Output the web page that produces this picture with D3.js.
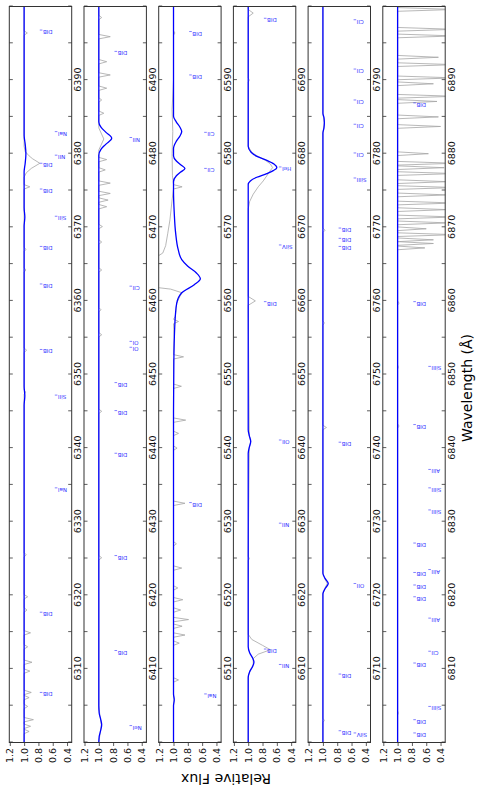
<!DOCTYPE html>
<html>
<head>
<meta charset="utf-8">
<script src="https://cdn.jsdelivr.net/npm/d3@7"></script>
<style>
  body { margin: 0; background: #fff; }
  text { font-family: "DejaVu Sans", sans-serif; }
</style>
</head>
<body>
<div id="chart"></div>
<script>
// wavelength windows, one per panel (each 100 A wide)
const panelStarts = [6300, 6400, 6500, 6600, 6700, 6800];
const fluxTicks = [0.4, 0.6, 0.8, 1.0, 1.2];

// model spectrum (blue), [wavelength, flux]
const model1 = [[6300,1.0],[6345.8,1.0],[6347.1,0.99],[6348.4,1.0],[6370.1,1.0],[6371.4,0.99],[6372.7,1.0],[6377.5,1.0],[6378.7,0.985],[6380.0,0.975],[6381.3,0.985],[6382.5,1.0],[6400,1.0]];
const model2 = [[6400,1.0],[6400.8,0.995],[6401.6,0.975],[6402.4,0.96],[6403.2,0.975],[6404.0,0.995],[6405,1.0],[6479.8,1.0],[6480.6,0.97],[6481.3,0.9],[6482.1,0.82],[6482.9,0.9],[6483.6,0.97],[6484.3,1.0],[6500,1.0]];
const model3 = [[6500,1.0],[6505.0,1.0],[6505.8,0.99],[6506.6,1.0],[6545,1.0],[6552,0.995],[6556,0.985],[6557.9,0.975],[6559.7,0.955],[6561.1,0.885],[6562.2,0.71],[6563.0,0.625],[6563.8,0.68],[6564.7,0.8],[6565.6,0.885],[6567.0,0.935],[6569.2,0.97],[6572,0.99],[6575,1.0],[6576.2,1.0],[6577.0,0.96],[6577.5,0.9],[6578.0,0.84],[6578.5,0.9],[6579.0,0.96],[6579.7,1.0],[6580.7,1.0],[6581.7,0.96],[6582.4,0.91],[6583.0,0.885],[6583.6,0.91],[6584.3,0.96],[6585.1,1.0],[6600,1.0]];
const model4 = [[6600,1.0],[6608.8,1.0],[6609.6,0.98],[6610.3,0.94],[6610.9,0.92],[6611.5,0.94],[6612.2,0.98],[6613.0,1.0],[6639.3,1.0],[6640.1,0.985],[6640.9,0.965],[6641.7,0.985],[6642.5,1.0],[6675.8,1.0],[6676.3,0.97],[6676.8,0.88],[6677.3,0.74],[6677.7,0.65],[6678.1,0.6],[6678.6,0.64],[6679.1,0.74],[6679.6,0.87],[6680.2,0.96],[6681.0,1.0],[6700,1.0]];
const model5 = [[6700,1.0],[6720.2,1.0],[6720.9,0.97],[6721.6,0.925],[6722.3,0.97],[6723.0,1.0],[6782.8,1.0],[6783.5,0.985],[6784.2,0.98],[6784.9,0.985],[6785.5,1.0],[6800,1.0]];
const model6 = [[6800,1.0],[6900,1.0]];

// observed spectrum (grey), smooth part, [wavelength, flux]
const obs1 = [[6300,1.0],[6376.8,1.0],[6377.4,0.97],[6378.0,0.9],[6378.7,0.78],[6379.3,0.88],[6379.7,0.93],[6380.3,0.985],[6381.0,1.0],[6400,1.0]];
const obs2 = [[6400,1.0],[6401.0,0.985],[6402.4,0.965],[6403.7,0.985],[6405,1.0],[6480.5,1.0],[6482.0,0.93],[6483.5,1.0],[6500,1.0]];
const obs3 = [[6500,1.0],[6505.0,1.0],[6505.8,0.99],[6506.6,1.0],[6550,1.0],[6555,0.99],[6557.9,0.975],[6559.7,0.955],[6560.6,0.91],[6561.1,0.88],[6561.6,1.04],[6561.9,1.3],[6565.6,1.3],[6566.5,1.15],[6567.5,1.11],[6569.2,1.08],[6571.0,1.05],[6573.7,1.02],[6577,1.015],[6580,1.02],[6583,1.01],[6586,1.02],[6590,1.0],[6600,1.0]];
const obs4 = [[6600,1.0],[6609.0,1.0],[6609.8,0.97],[6610.6,0.93],[6611.4,0.93],[6612.0,0.86],[6612.6,0.69],[6613.2,0.8],[6614.0,0.95],[6614.7,1.0],[6640.1,0.985],[6640.9,0.965],[6641.7,0.985],[6659.4,1.0],[6660.0,0.9],[6660.6,1.0],[6672.5,1.0],[6673.5,0.98],[6674.5,0.93],[6675.5,0.86],[6676.3,0.79],[6677.0,0.74],[6677.6,0.7],[6678.1,0.66],[6678.6,0.69],[6679.1,0.76],[6679.6,0.86],[6680.2,0.95],[6681.0,1.0],[6698.6,1.0],[6699.1,0.93],[6699.6,1.0],[6700,1.0]];
const obs5 = [[6700,1.0],[6720.2,1.0],[6720.9,0.975],[6721.6,0.94],[6722.3,0.975],[6723.0,1.0],[6782.8,1.0],[6784.2,0.98],[6785.5,1.0],[6800,1.0]];
const obs6 = [[6800,1.0],[6900,1.0]];

// narrow features in the observed spectrum, [centre, flux at centre]
const spikes1 = [[6301.5,0.93],[6302.2,0.91],[6303.1,0.87],[6304.9,0.95],[6306.1,0.93],[6306.8,0.9],[6309.7,0.92],[6310.9,0.89],[6313.0,0.95],[6314.9,0.91],[6318.0,0.96],[6319.8,0.95],[6325.5,0.97],[6347.6,0.98],[6353.3,0.965],[6364.2,0.975],[6367.0,0.975],[6375.5,0.92],[6396.4,0.955]];
const spikes2 = [[6425.1,0.96],[6445.0,0.96],[6455.4,0.96],[6458.8,0.97],[6464.2,0.96],[6468.0,0.96],[6470.1,0.95],[6472.8,0.89],[6473.7,0.87],[6474.6,0.84],[6476.0,0.84],[6477.8,0.91],[6479.2,0.89],[6485.5,0.93],[6487.3,0.96],[6488.9,0.89],[6490.7,0.84],[6492.5,0.89],[6495.9,0.84],[6498.5,0.96]];
const spikes3 = [[6508.5,0.93],[6513.5,0.92],[6514.6,0.84],[6515.8,0.88],[6516.7,0.79],[6518.0,0.9],[6519.4,0.87],[6521.0,0.94],[6523.7,0.885],[6527.0,0.96],[6532.5,0.84],[6540.0,0.95],[6542.0,0.93],[6543.8,0.83],[6548.4,0.89],[6552.4,0.86],[6557.2,0.93],[6575.5,0.88],[6596.4,0.98]];
const spikes4 = [[6625.0,0.985],[6690.0,0.985]];
const spikes5 = [[6703.0,0.98],[6742.8,0.95],[6757.0,0.98],[6769.6,0.97]];
const spikes6 = [[6804.0,0.99],[6843.0,0.98],[6851.0,0.99],[6859.7,0.98],
  // telluric O2 band
  [6867.2,0.62],[6867.8,0.5],[6868.3,0.5],[6869.0,0.2],[6869.8,0.6],[6870.6,0.3],[6871.4,0.2],[6872.4,0.3],[6873.3,0.2],[6874.4,0.3],[6875.4,0.2],[6876.2,0.3],[6877.3,0.2],[6878.1,0.35],[6878.7,0.2],[6880.0,0.57],[6883.7,0.4],[6885.0,0.43],[6887.1,0.45],[6887.8,0.2],[6889.5,0.5],[6890.3,0.2],[6892.1,0.2],[6893.1,0.43],[6896.0,0.2],[6896.9,0.2],[6899.6,0.2]];

// line identifications, [wavelength, name, row] (row d = DIB row, i = ion row)
const labels1 = [[6396.8,"DIB","d"],[6383.0,"NaI","i"],[6379.8,"NII","i"],[6378.7,"DIB","d"],[6375.2,"DIB","d"],[6371.5,"SiII","i"],[6367.4,"DIB","d"],[6362.3,"DIB","d"],[6353.4,"DIB","d"],[6347.2,"SiII","i"],[6334.6,"NaI","i"],[6317.7,"DIB","d"],[6306.8,"DIB","d"]];
const labels2 = [[6493.9,"DIB","d"],[6482.2,"NII","i"],[6462.0,"CII","i"],[6454.5,"OI","i"],[6453.7,"OI","i"],[6448.9,"DIB","d"],[6445.1,"DIB","d"],[6439.3,"DIB","d"],[6425.4,"DIB","d"],[6412.5,"DIB","d"],[6402.3,"NeI","i"]];
const labels3 = [[6596.6,"DIB","d"],[6590.7,"DIB","d"],[6582.9,"CII","i"],[6578.0,"CII","i"],[6532.6,"DIB","d"],[6506.6,"NaI","i"]];
const labels4 = [[6698.4,"DIB","d"],[6678.2,"HeI","i"],[6667.6,"SiIV","i"],[6659.9,"DIB","d"],[6641.1,"OII","i"],[6629.8,"NII","i"],[6612.7,"DIB","d"],[6610.6,"NII","i"]];
const labels5 = [[6798.2,"CII","i"],[6791.5,"CII","i"],[6787.3,"CII","i"],[6784.0,"CII","i"],[6780.1,"CII","i"],[6776.7,"SiIII","i"],[6769.9,"DIB","d"],[6768.5,"DIB","d"],[6767.4,"DIB","d"],[6740.8,"DIB","d"],[6721.6,"OII","i"],[6709.3,"DIB","d"],[6701.6,"DIB","d"],[6701.3,"SiIV","i"]];
const labels6 = [[6886.9,"DIB","d"],[6859.9,"DIB","d"],[6851.1,"SiIII","i"],[6843.2,"DIB","d"],[6837.1,"AlII","i"],[6834.6,"SiIII","i"],[6831.6,"SiIII","i"],[6827.1,"DIB","d"],[6823.5,"AlII","i"],[6823.1,"DIB","d"],[6821.4,"DIB","d"],[6819.8,"DIB","d"],[6816.9,"AlII","i"],[6812.4,"CII","i"],[6810.8,"DIB","d"],[6804.9,"SiIII","i"],[6803.1,"DIB","d"],[6801.3,"DIB","d"]];

const models = [model1, model2, model3, model4, model5, model6];
const observed = [obs1, obs2, obs3, obs4, obs5, obs6];
const spikes = [spikes1, spikes2, spikes3, spikes4, spikes5, spikes6];
const labels = [labels1, labels2, labels3, labels4, labels5, labels6];

// the figure is drawn landscape (792 x 479) and turned a quarter turn
const figW = 792;
const svg = d3.select("#chart").append("svg")
  .attr("width", 479).attr("height", 792);
const fig = svg.append("g")
  .attr("transform", "translate(0," + figW + ") rotate(-90)");

const left = 49.5, right = 785.5, panelH = 62.4;

// put each narrow feature in as a small V on the continuum
const addSpikes = function(base, list) {
  const pts = base.slice();
  list.forEach(function(s) {
    const hw = s[0] > 6866 ? 0.25 : 0.3;
    pts.push([s[0] - hw, 1.0], [s[0], s[1]], [s[0] + hw, 1.0]);
  });
  return pts.sort(function(a, b) { return a[0] - b[0]; });
}

panelStarts.forEach(function(start, i) {
  const pTop = 9.3 + i * 74.7;
  const x = d3.scaleLinear().domain([start, start + 100]).range([left, right]);
  const y = d3.scaleLinear().domain([0.335, 1.207]).range([pTop + panelH, pTop]);
  const g = fig.append("g");

  g.append("clipPath").attr("id", "clip" + i)
    .append("rect").attr("x", left).attr("y", pTop)
    .attr("width", right - left).attr("height", panelH);

  const line = d3.line().x(d => x(d[0])).y(d => y(d[1]));
  const smooth = d3.line().x(d => x(d[0])).y(d => y(d[1])).curve(d3.curveMonotoneX);

  g.append("path").datum(addSpikes(observed[i], spikes[i]))
    .attr("clip-path", "url(#clip" + i + ")")
    .attr("fill", "none").attr("stroke", "#a6a6a6").attr("stroke-width", 0.8)
    .attr("d", line);

  g.append("path").datum(models[i])
    .attr("clip-path", "url(#clip" + i + ")")
    .attr("fill", "none").attr("stroke", "#0000ff").attr("stroke-width", 1.3)
    .attr("d", smooth);

  // line ids
  labels[i].forEach(function(l) {
    const off = l[2] == "d" ? 30.5 : 45.5;
    g.append("line")
      .attr("x1", x(l[0])).attr("x2", x(l[0]))
      .attr("y1", pTop + off).attr("y2", pTop + off + 2.6)
      .attr("stroke", "#2b2bff").attr("stroke-width", 0.6);
    g.append("text")
      .attr("transform", "translate(" + x(l[0]) + "," + (pTop + off + 3.1) + ") rotate(-90)")
      .attr("text-anchor", "end")
      .attr("fill", "#2b2bff")
      .style("font-size", "5.5px")
      .text(l[1]);
  });

  // axes
  const wTicks = x.ticks(20);
  g.append("g").attr("transform", "translate(0," + (pTop + panelH) + ")")
    .call(d3.axisBottom(x).tickValues(wTicks).tickSize(-3.5).tickPadding(2.8)
      .tickFormat(d => (d % 10 == 0 && d > start && d < start + 100) ? d : ""));
  g.append("g").attr("transform", "translate(0," + pTop + ")")
    .call(d3.axisTop(x).tickValues(wTicks).tickSize(-3.5).tickFormat(""));
  g.append("g").attr("transform", "translate(" + left + ",0)")
    .call(d3.axisLeft(y).tickValues(fluxTicks).tickSize(3.5).tickPadding(2)
      .tickFormat(d3.format(".1f")));

  g.selectAll(".domain").remove();
  g.selectAll(".tick line").attr("stroke", "#333").attr("stroke-width", 0.8);
  g.selectAll(".tick text").attr("fill", "#111")
    .style("font-family", "DejaVu Sans").style("font-size", "9.5px");

  g.append("rect").attr("x", left).attr("y", pTop)
    .attr("width", right - left).attr("height", panelH)
    .attr("fill", "none").attr("stroke", "#333").attr("stroke-width", 1);
});

fig.append("text")
  .attr("transform", "translate(18,226) rotate(-90)")
  .attr("text-anchor", "middle")
  .style("font-size", "14px")
  .text("Relative Flux");

fig.append("text")
  .attr("x", 404).attr("y", 471.5)
  .attr("text-anchor", "middle")
  .style("font-size", "14px")
  .text("Wavelength (Å)");
</script>
</body>
</html>
